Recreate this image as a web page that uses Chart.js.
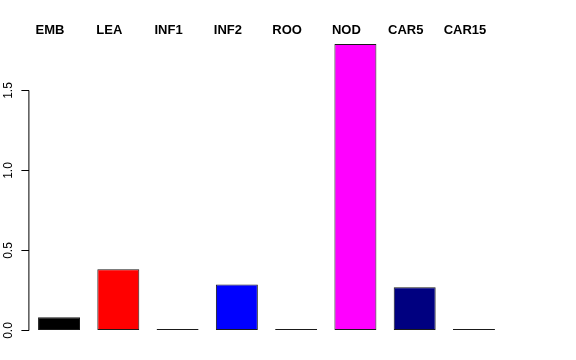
<!DOCTYPE html>
<html>
<head>
<meta charset="utf-8">
<script src="https://cdn.jsdelivr.net/npm/chart.js@4/dist/chart.umd.min.js"></script>
<style>
  html, body { margin: 0; padding: 0; background: #fff; }
  #c { display: block; }
</style>
</head>
<body>
<canvas id="c" width="576" height="360"></canvas>
<script>
const categories = ['EMB', 'LEA', 'INF1', 'INF2', 'ROO', 'NOD', 'CAR5', 'CAR15'];
const values = [0.083, 0.383, 0, 0.287, 0, 1.79, 0.27, 0];
const barColors = ['#000000', '#ff0000', '#4a4a4a', '#0000ff', '#4a4a4a', '#ff00ff', '#000080', '#4a4a4a'];
const yTickValues = [0, 0.5, 1, 1.5];
const yTickLabels = ['0.0', '0.5', '1.0', '1.5'];

const axisLinePlugin = {
  id: 'axisLine',
  afterDraw(chart) {
    const y = chart.scales.y;
    const ctx = chart.ctx;
    const x = chart.chartArea.left - 0.5;
    ctx.save();
    ctx.strokeStyle = '#000';
    ctx.lineWidth = 1;
    ctx.beginPath();
    ctx.moveTo(x, y.getPixelForValue(yTickValues[0]));
    ctx.lineTo(x, y.getPixelForValue(yTickValues[yTickValues.length - 1]));
    ctx.stroke();
    ctx.restore();
  }
};

new Chart(document.getElementById('c'), {
  type: 'bar',
  data: {
    labels: categories,
    datasets: [{
      data: values,
      backgroundColor: barColors,
      borderColor: '#1a1a1a',
      borderWidth: 1,
      borderSkipped: false,
      minBarLength: 1.5,
      categoryPercentage: 1,
      barPercentage: 0.708
    }]
  },
  options: {
    responsive: false,
    animation: false,
    devicePixelRatio: 1,
    layout: { padding: { top: 0, bottom: 29.5, left: 0, right: 72.4 } },
    plugins: { legend: { display: false }, tooltip: { enabled: false } },
    scales: {
      x: {
        position: 'top',
        grid: { display: false, drawTicks: false },
        border: { display: false },
        afterFit(scale) { scale.height = 42.5; },
        ticks: {
          color: '#000',
          font: { family: 'Liberation Sans', size: 13, weight: 'bold' },
          padding: 4,
          labelOffset: -9,
          maxRotation: 0,
          autoSkip: false
        }
      },
      y: {
        min: 0,
        max: 1.8,
        border: { display: false },
        grid: { display: true, drawOnChartArea: false, drawTicks: true, tickLength: 8, color: '#000', lineWidth: 1 },
        afterBuildTicks(scale) { scale.ticks = yTickValues.map(v => ({ value: v })); },
        afterFit(scale) { scale.width = 29.4; },
        ticks: {
          color: '#000',
          font: { family: 'Liberation Sans', size: 12 },
          minRotation: 90,
          maxRotation: 90,
          crossAlign: 'center',
          padding: 4,
          callback(value) {
            const i = yTickValues.indexOf(value);
            return i >= 0 ? yTickLabels[i] : '';
          }
        }
      }
    }
  },
  plugins: [axisLinePlugin]
});
</script>
</body>
</html>
